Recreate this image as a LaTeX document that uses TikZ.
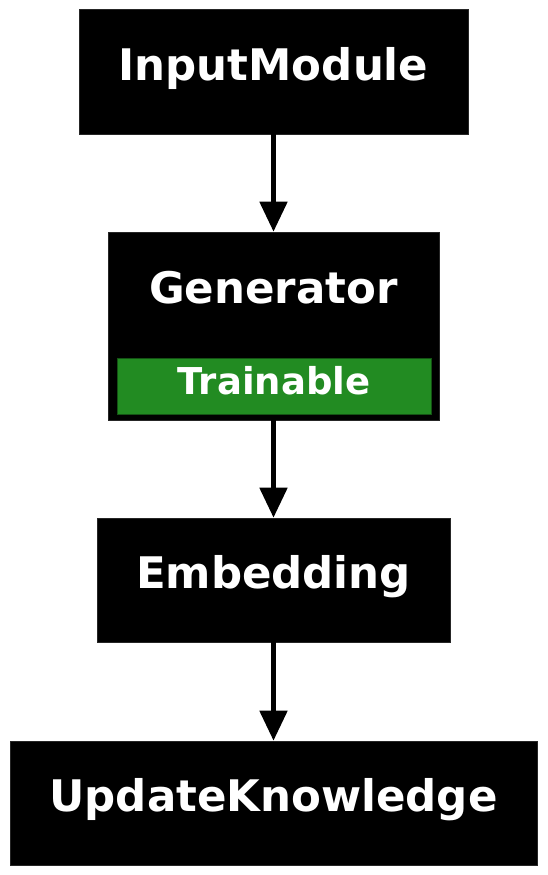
\documentclass[tikz,border=0pt]{standalone}
\usepackage{fontspec}
\setmainfont{DejaVu Sans}
\usetikzlibrary{arrows.meta}
\definecolor{trgreen}{RGB}{34,139,34}
\begin{document}
\begin{tikzpicture}[x=1pt,y=-1pt,
  blk/.style={fill=black,draw=black!85,line width=0.6pt,inner sep=0pt,text=white,
    font=\fontsize{43.5}{50}\selectfont\bfseries,align=center},
  grn/.style={fill=trgreen,draw=trgreen!60!black,line width=0.6pt,inner sep=0pt,text=white,
    font=\fontsize{37}{42}\selectfont\bfseries},
  conn/.style={line width=5pt,-{Triangle[width=27pt,length=30pt]}}]
\useasboundingbox[fill=white] (0,0) rectangle (547,875);
% InputModule: x 79-468, y 9.5-134, baseline 81
\node[blk,minimum width=389pt,text height=71.5pt,text depth=53pt,anchor=base] (im) at (273.5,81) {InputModule};
% Generator: x 108-439, y 232-420, baseline 303
\node[blk,minimum width=331pt,text height=71pt,text depth=117pt,anchor=base] (gen) at (273.5,303) {Generator};
% Trainable band: x 117-431, y 358-414, baseline 394
\node[grn,minimum width=314pt,text height=36pt,text depth=20pt,anchor=base] (tr) at (274,394) {Trainable};
% Embedding: x 97-450, y 518-642, baseline 588
\node[blk,minimum width=353pt,text height=70pt,text depth=54pt,anchor=base] (emb) at (273.5,588) {Embedding};
% UpdateKnowledge: x 10-537, y 741-865, baseline 811
\node[blk,minimum width=527pt,text height=70pt,text depth=54pt,anchor=base] (uk) at (273.5,811) {UpdateKnowledge};
\draw[conn] (im.south) -- (gen.north);
\draw[conn] (gen.south) -- (emb.north);
\draw[conn] (emb.south) -- (uk.north);
\end{tikzpicture}
\end{document}
